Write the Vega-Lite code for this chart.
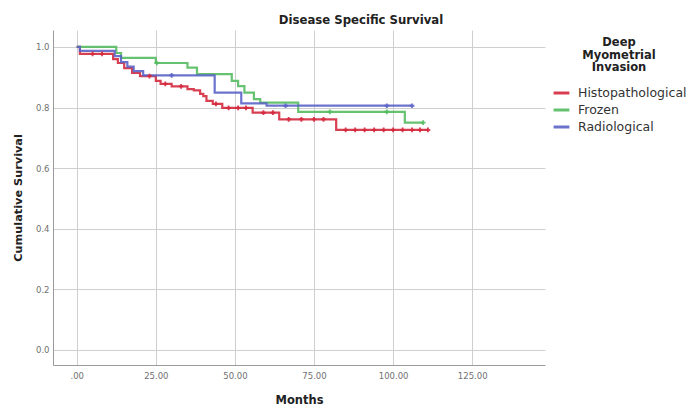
{
  "$schema": "https://vega.github.io/schema/vega-lite/v6.json",
  "width": 492,
  "height": 335,
  "autosize": {"type": "none"},
  "padding": {"left": 53, "top": 30, "right": 144, "bottom": 42},
  "background": "white",
  "title": {
    "text": "Disease Specific Survival",
    "font": "DejaVu Sans",
    "fontSize": 11.7,
    "fontWeight": "bold",
    "color": "#222222",
    "anchor": "middle",
    "dx": 62,
    "offset": 3
  },
  "config": {
    "view": {"stroke": null},
    "axis": {
      "labelFont": "DejaVu Sans",
      "labelFontSize": 8.5,
      "labelColor": "#707070",
      "titleFont": "DejaVu Sans",
      "titleColor": "#222222",
      "gridColor": "#cfcfcf",
      "gridWidth": 1,
      "domainColor": "#9a9a9a",
      "ticks": false
    }
  },
  "datasets": {
    "curves": [
      {"group": "Histopathological", "month": 0, "surv": 1.0},
      {"group": "Histopathological", "month": 1, "surv": 0.977},
      {"group": "Histopathological", "month": 11.5, "surv": 0.96},
      {"group": "Histopathological", "month": 13, "surv": 0.947},
      {"group": "Histopathological", "month": 15, "surv": 0.93},
      {"group": "Histopathological", "month": 17.5, "surv": 0.914},
      {"group": "Histopathological", "month": 20, "surv": 0.904},
      {"group": "Histopathological", "month": 25, "surv": 0.888},
      {"group": "Histopathological", "month": 26.5, "surv": 0.878},
      {"group": "Histopathological", "month": 30, "surv": 0.87},
      {"group": "Histopathological", "month": 35, "surv": 0.861},
      {"group": "Histopathological", "month": 37, "surv": 0.857},
      {"group": "Histopathological", "month": 39, "surv": 0.845},
      {"group": "Histopathological", "month": 40, "surv": 0.838},
      {"group": "Histopathological", "month": 41, "surv": 0.822},
      {"group": "Histopathological", "month": 43, "surv": 0.812},
      {"group": "Histopathological", "month": 46, "surv": 0.799},
      {"group": "Histopathological", "month": 55.6, "surv": 0.783},
      {"group": "Histopathological", "month": 64, "surv": 0.761},
      {"group": "Histopathological", "month": 82, "surv": 0.726},
      {"group": "Histopathological", "month": 111, "surv": 0.726},
      {"group": "Frozen", "month": 0, "surv": 1.0},
      {"group": "Frozen", "month": 12.5, "surv": 0.98},
      {"group": "Frozen", "month": 14, "surv": 0.964},
      {"group": "Frozen", "month": 25, "surv": 0.947},
      {"group": "Frozen", "month": 35, "surv": 0.932},
      {"group": "Frozen", "month": 38, "surv": 0.91},
      {"group": "Frozen", "month": 49, "surv": 0.888},
      {"group": "Frozen", "month": 51, "surv": 0.871},
      {"group": "Frozen", "month": 53, "surv": 0.849},
      {"group": "Frozen", "month": 56, "surv": 0.828},
      {"group": "Frozen", "month": 58, "surv": 0.816},
      {"group": "Frozen", "month": 70, "surv": 0.786},
      {"group": "Frozen", "month": 103.7, "surv": 0.75},
      {"group": "Frozen", "month": 109.5, "surv": 0.75},
      {"group": "Radiological", "month": 0, "surv": 1.0},
      {"group": "Radiological", "month": 1, "surv": 0.987},
      {"group": "Radiological", "month": 12, "surv": 0.97},
      {"group": "Radiological", "month": 14, "surv": 0.95},
      {"group": "Radiological", "month": 16, "surv": 0.935},
      {"group": "Radiological", "month": 18, "surv": 0.92},
      {"group": "Radiological", "month": 21, "surv": 0.906},
      {"group": "Radiological", "month": 43.6, "surv": 0.849},
      {"group": "Radiological", "month": 52, "surv": 0.814},
      {"group": "Radiological", "month": 60, "surv": 0.806},
      {"group": "Radiological", "month": 106, "surv": 0.806}
    ],
    "censor": [
      {"group": "Histopathological", "month": 5, "surv": 0.977},
      {"group": "Histopathological", "month": 8, "surv": 0.977},
      {"group": "Histopathological", "month": 23, "surv": 0.904},
      {"group": "Histopathological", "month": 28, "surv": 0.878},
      {"group": "Histopathological", "month": 33, "surv": 0.87},
      {"group": "Histopathological", "month": 44, "surv": 0.812},
      {"group": "Histopathological", "month": 48, "surv": 0.799},
      {"group": "Histopathological", "month": 51, "surv": 0.799},
      {"group": "Histopathological", "month": 53.5, "surv": 0.799},
      {"group": "Histopathological", "month": 59, "surv": 0.783},
      {"group": "Histopathological", "month": 62, "surv": 0.783},
      {"group": "Histopathological", "month": 67, "surv": 0.761},
      {"group": "Histopathological", "month": 71, "surv": 0.761},
      {"group": "Histopathological", "month": 75, "surv": 0.761},
      {"group": "Histopathological", "month": 78, "surv": 0.761},
      {"group": "Histopathological", "month": 85, "surv": 0.726},
      {"group": "Histopathological", "month": 88, "surv": 0.726},
      {"group": "Histopathological", "month": 91, "surv": 0.726},
      {"group": "Histopathological", "month": 94, "surv": 0.726},
      {"group": "Histopathological", "month": 97, "surv": 0.726},
      {"group": "Histopathological", "month": 100, "surv": 0.726},
      {"group": "Histopathological", "month": 103, "surv": 0.726},
      {"group": "Histopathological", "month": 106, "surv": 0.726},
      {"group": "Histopathological", "month": 108.5, "surv": 0.726},
      {"group": "Histopathological", "month": 111, "surv": 0.726},
      {"group": "Frozen", "month": 25.3, "surv": 0.947},
      {"group": "Frozen", "month": 80, "surv": 0.786},
      {"group": "Frozen", "month": 98, "surv": 0.786},
      {"group": "Frozen", "month": 109.5, "surv": 0.75},
      {"group": "Radiological", "month": 30, "surv": 0.906},
      {"group": "Radiological", "month": 66, "surv": 0.806},
      {"group": "Radiological", "month": 98, "surv": 0.806},
      {"group": "Radiological", "month": 106, "surv": 0.806}
    ]
  },
  "encoding": {
    "x": {
      "field": "month",
      "type": "quantitative",
      "scale": {"domain": [-7.5, 148], "nice": false, "zero": false},
      "axis": {
        "values": [0, 25, 50, 75, 100, 125],
        "labelExpr": "datum.value == 0 ? '.00' : format(datum.value, '.2f')",
        "labelPadding": 6,
        "title": "Months",
        "titleFontSize": 11.5,
        "titleFontWeight": "bold",
        "titlePadding": 15
      }
    },
    "y": {
      "field": "surv",
      "type": "quantitative",
      "scale": {"domain": [-0.05, 1.056], "nice": false, "zero": false},
      "axis": {
        "values": [0, 0.2, 0.4, 0.6, 0.8, 1.0],
        "format": ".1f",
        "labelPadding": 4,
        "title": "Cumulative Survival",
        "titleFontSize": 11.3,
        "titleFontWeight": "bold",
        "titlePadding": 12
      }
    },
    "color": {
      "field": "group",
      "type": "nominal",
      "scale": {
        "domain": ["Histopathological", "Frozen", "Radiological"],
        "range": ["#d42a3e", "#55bb60", "#5b64c6"]
      },
      "legend": {
        "title": ["Deep", "Myometrial", "Invasion"],
        "orient": "none",
        "legendX": 499,
        "legendY": 7,
        "titleFont": "DejaVu Sans",
        "titleFontSize": 11.5,
        "titleFontWeight": "bold",
        "titleColor": "#222222",
        "titleAlign": "center",
        "titleAnchor": "middle",
        "titleLineHeight": 12.5,
        "titlePadding": 10,
        "labelFont": "DejaVu Sans",
        "labelFontSize": 12.5,
        "labelColor": "#333333",
        "labelLimit": 300,
        "symbolType": "stroke",
        "symbolStrokeWidth": 3,
        "symbolSize": 250,
        "rowPadding": 1,
        "labelOffset": 7
      }
    }
  },
  "layer": [
    {
      "data": {"name": "curves"},
      "mark": {"type": "line", "interpolate": "step-after", "strokeWidth": 2.2, "opacity": 0.9}
    },
    {
      "data": {"name": "censor"},
      "mark": {"type": "point", "shape": "cross", "filled": true, "size": 22, "opacity": 0.9}
    }
  ]
}
